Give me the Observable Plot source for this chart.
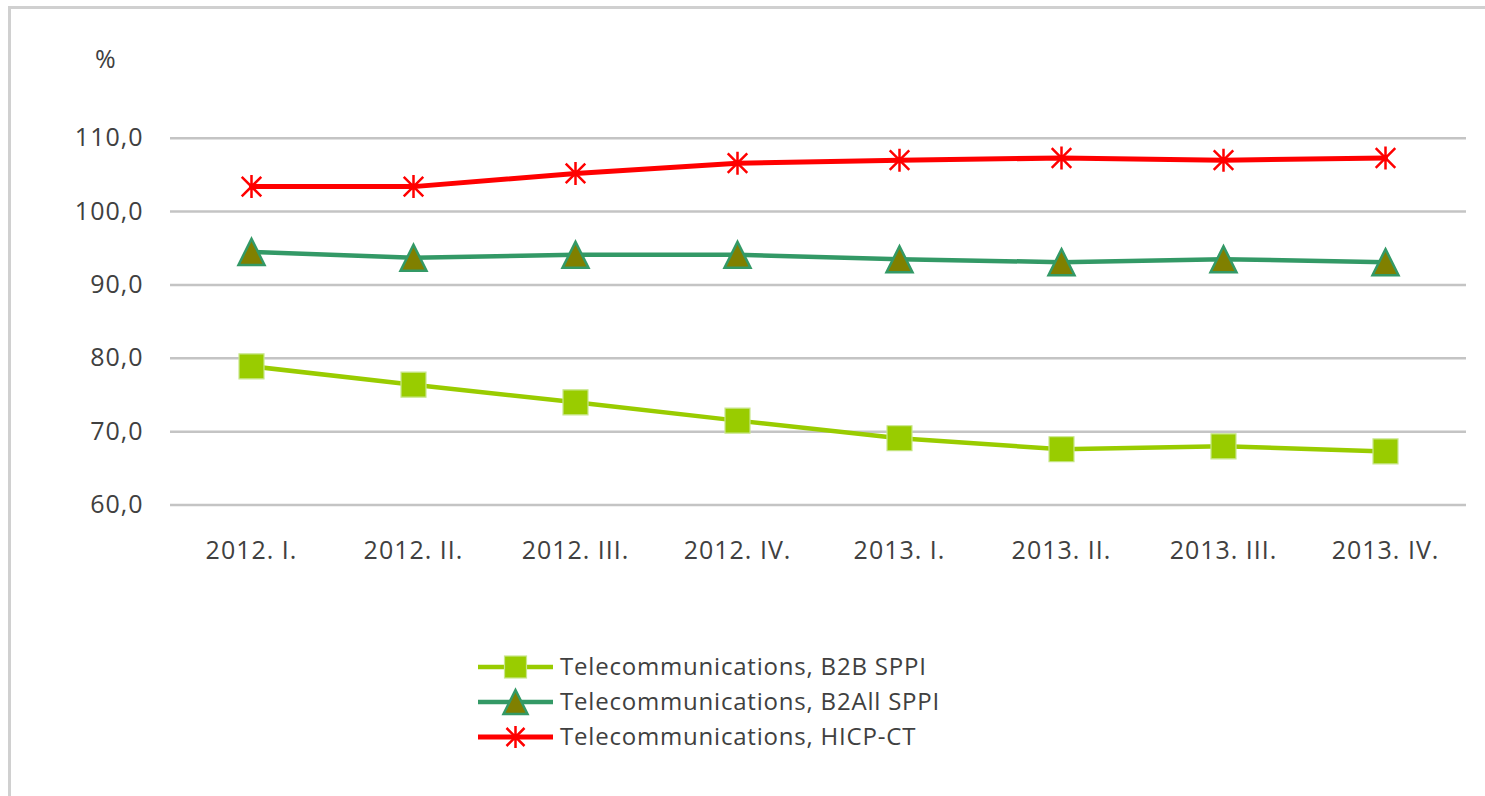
<!DOCTYPE html>
<html>
<head>
<meta charset="utf-8">
<script src="https://cdn.jsdelivr.net/npm/d3@7"></script>
<script src="https://cdn.jsdelivr.net/npm/@observablehq/plot@0.6"></script>
<style>
  html, body { margin: 0; padding: 0; background: #fff; }
  body { width: 1485px; height: 796px; overflow: hidden; position: relative; font-family: "Open Sans", sans-serif; color: #404040; }
  #frame { position: absolute; left: 8px; top: 6px; width: 1700px; height: 900px; border: 3px solid #d0d0d0; box-sizing: border-box; }
  #chart { position: absolute; left: 0; top: 0; }
  #unit { position: absolute; left: 95px; top: 41px; font-size: 25px; color: #404040; }
  #legend { position: absolute; left: 470px; top: 645px; }
</style>
</head>
<body>
<div id="frame"></div>
<div id="chart"></div>
<div id="unit">%</div>
<div id="legend"></div>
<script>
// ---- data ----
const quarters = ["2012. I.", "2012. II.", "2012. III.", "2012. IV.", "2013. I.", "2013. II.", "2013. III.", "2013. IV."];
const seriesNames = ["Telecommunications, B2B SPPI", "Telecommunications, B2All SPPI", "Telecommunications, HICP-CT"];
const b2b   = [78.9, 76.4, 74.0, 71.5, 69.1, 67.6, 68.0, 67.3];
const b2all = [94.5, 93.7, 94.1, 94.1, 93.5, 93.1, 93.5, 93.1];
const hicp  = [103.4, 103.4, 105.2, 106.6, 107.0, 107.3, 107.0, 107.3];
const yTicks = [60, 70, 80, 90, 100, 110];

// ---- styles ----
const lineColors = ["#99cc00", "#339966", "#ff0000"];
const values = [b2b, b2all, hicp];
const rows = seriesNames.flatMap((s, i) => quarters.map((q, j) => ({ s, q, v: values[i][j] })));

// custom symbols (r = radius passed to dot)
const rad = size => Math.sqrt(size / Math.PI);
const squareSym = { draw(ctx, size) { const r = rad(size); ctx.rect(-r, -r, 2 * r, 2 * r); } };
const triSym = { draw(ctx, size) { const r = rad(size); ctx.moveTo(0, -r); ctx.lineTo(r, r); ctx.lineTo(-r, r); ctx.closePath(); } };
const starSym = { draw(ctx, size) { const r = rad(size); const k = 0.85 * r;
  ctx.moveTo(0, -r); ctx.lineTo(0, r);
  ctx.moveTo(-k, -k); ctx.lineTo(k, k);
  ctx.moveTo(-k, k); ctx.lineTo(k, -k); } };

const markerStyles = [
  { symbol: squareSym, r: 12.5, fill: "#99cc00", stroke: "#c8e68c", strokeWidth: 1.2 },
  { symbol: triSym, r: 13, fill: "#808000", stroke: "#339966", strokeWidth: 2.5 },
  { symbol: starSym, r: 11.5, fill: "none", stroke: "#ff0000", strokeWidth: 2.5 }
];
const lineWidths = [4.5, 4.5, 5];

const fmt = d => d.toFixed(1).replace(".", ",");

const marks = [
  Plot.ruleY(yTicks, { stroke: "#c4c4c4", strokeWidth: 2.5 }),
  Plot.axisY({ ticks: yTicks, tickSize: 0, tickPadding: 27, tickFormat: fmt, label: null }),
  Plot.axisX({ tickSize: 0, tickPadding: 36, label: null })
];
seriesNames.forEach((s, i) => {
  marks.push(Plot.line(rows.filter(d => d.s === s), { x: "q", y: "v", stroke: lineColors[i], strokeWidth: lineWidths[i] }));
});
seriesNames.forEach((s, i) => {
  const m = markerStyles[i];
  marks.push(Plot.dot(rows.filter(d => d.s === s), { x: "q", y: "v", symbol: m.symbol, r: m.r, fill: m.fill, stroke: m.stroke, strokeWidth: m.strokeWidth }));
});

const chart = Plot.plot({
  width: 1485,
  height: 560,
  marginLeft: 170,
  marginRight: 19,
  marginTop: 137.7,
  marginBottom: 55.5,
  style: { fontSize: "25px", fontFamily: "Open Sans, sans-serif", color: "#404040", background: "transparent", overflow: "visible", letterSpacing: "1px" },
  x: { type: "point", domain: quarters, padding: 0.5 },
  y: { domain: [60, 110] },
  marks
});
document.getElementById("chart").appendChild(chart);

// ---- legend ----
const lg = d3.select("#legend").append("svg").attr("width", 620).attr("height", 120)
  .style("font-family", "Open Sans, sans-serif").style("overflow", "visible");
const legendSymbols = [
  (g) => g.append("rect").attr("x", -11).attr("y", -11).attr("width", 22).attr("height", 22).attr("fill", "#99cc00").attr("stroke", "#c8e68c").attr("stroke-width", 1.2),
  (g) => g.append("path").attr("d", "M0,-12L12,12L-12,12Z").attr("fill", "#808000").attr("stroke", "#339966").attr("stroke-width", 2.5),
  (g) => g.append("path").attr("d", "M0,-11L0,11M-9,-9L9,9M-9,9L9,-9").attr("fill", "none").attr("stroke", "#ff0000").attr("stroke-width", 2.5)
];
seriesNames.forEach((s, i) => {
  const g = lg.append("g").attr("transform", `translate(0,${22 + i * 35})`);
  g.append("line").attr("x1", 8).attr("x2", 83).attr("y1", 0).attr("y2", 0).attr("stroke", lineColors[i]).attr("stroke-width", lineWidths[i]);
  legendSymbols[i](g.append("g").attr("transform", "translate(45.5,0)"));
  g.append("text").attr("x", 90).attr("y", 0).attr("dy", "0.35em").attr("font-size", 24).attr("fill", "#404040")
    .attr("letter-spacing", "0.8px").text(s);
});
</script>
</body>
</html>
